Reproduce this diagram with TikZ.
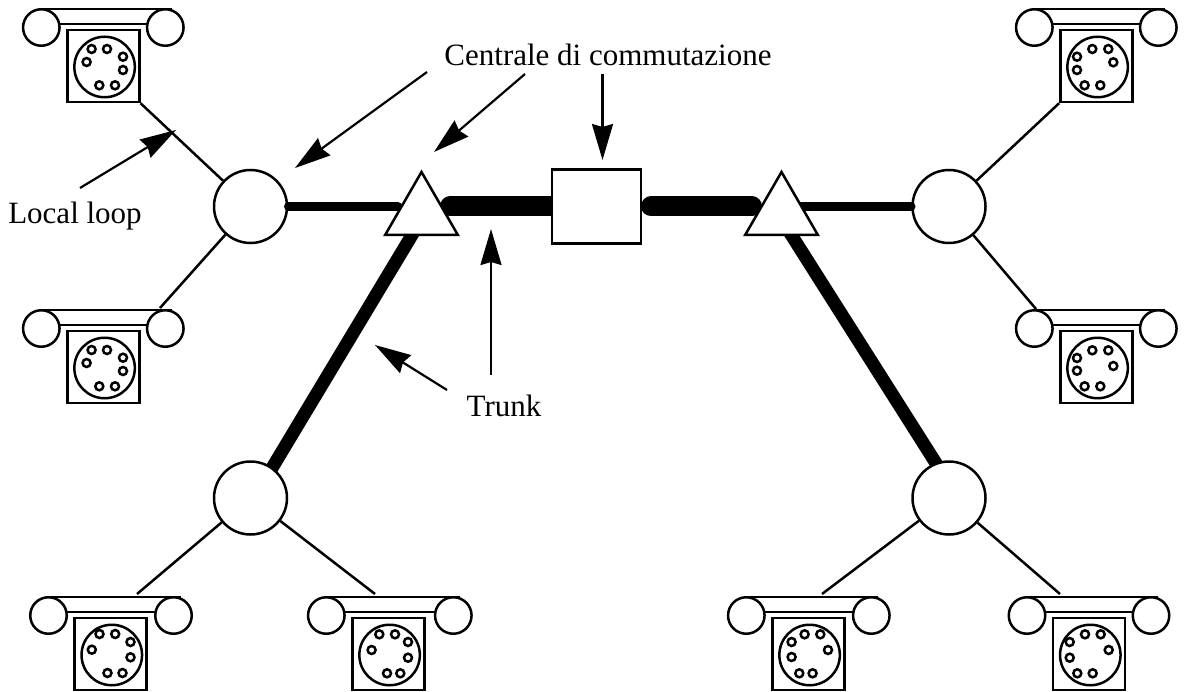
\documentclass[tikz,border=0pt]{standalone}
\usepackage{fontspec}
\setmainfont{Liberation Serif}
\usetikzlibrary{arrows.meta,shapes.geometric}
\tikzset{
  thinline/.style={line width=2.5pt},
  earp/.style={circle,draw,line width=2.5pt,fill=white,inner sep=0pt,minimum size=36.5pt},
  dial/.style={circle,draw,line width=2.5pt,inner sep=0pt,minimum size=60.5pt},
  phonebox/.style={rectangle,draw,line width=2.5pt,inner sep=0pt,minimum size=72pt},
  hub/.style={circle,draw,line width=2.5pt,fill=white,inner sep=0pt,minimum size=73pt},
  tri/.style={regular polygon,regular polygon sides=3,draw,line width=2.5pt,fill=white,inner sep=0pt,minimum size=84pt},
  sw/.style={rectangle,draw,line width=2.5pt,fill=white,inner sep=0pt,minimum width=89pt,minimum height=74pt},
  local/.style={line width=8.5pt,line cap=round},
  trunkh/.style={line width=20pt,line cap=round},
  trunkd/.style={line width=13pt},
  callout/.style={line width=2.2pt,-{Stealth[length=36pt,width=21pt,inset=3pt]}},
  lbl/.style={font=\fontsize{31}{36}\selectfont,inner sep=0pt}
}
% name, box left, box top, right earpiece offset, holes
\newcommand{\phoneset}[5]{%
  \node[phonebox] (#1b) at (#2+36,#3+36) {};
  \node[dial] (#1d) at (#2+37.3,#3+37) {};
  \foreach \hx/\hy in {#5} \draw[thinline] (#2+\hx,#3+\hy) circle (4);
  \coordinate (#1a) at (#2-28,#3-21);
  \coordinate (#1c) at (#2+#4+7,#3-21);
  \coordinate (#1e) at (#2-20,#3-6);
  \coordinate (#1f) at (#2+#4-5,#3-6);
  \draw[thinline] (#1a) -- (#1c);
  \draw[thinline] (#1e) -- (#1f);
  \node[earp] (#1l) at (#2-26,#3-2.5) {};
  \node[earp] (#1r) at (#2+#4,#3-2.5) {};
}
\begin{document}
\begin{tikzpicture}[x=1pt,y=-1pt]
\useasboundingbox (0,0) rectangle (1185,692);
\fill[white] (0,0) rectangle (1185,692);
% telephones
\phoneset{pa}{67.3}{30}{98}{24.3/19,39.7/19,55.7/26.7,55.7/40,47.7/55.3,32/55.3,19.3/32}
\phoneset{pb}{67.3}{331}{98}{24.3/19,39.7/19,55.7/26.7,55.7/40,47.7/55.3,32/55.3,19.3/32}
\phoneset{pc}{74.5}{618}{99}{25/16,40.7/16,56/24,56/39.3,48/55,33/55,17.3/31.7}
\phoneset{pd}{352.3}{618}{101}{27/16.3,42.7/16.3,55.7/24,55.7/39.7,48/55.3,34.7/55.3,19.3/32}
\phoneset{pe}{772.3}{618}{99}{19.3/24,32.3/16.3,48/16.3,55.7/32,40.3/55.3,27/55.3,19.3/39}
\phoneset{pf}{1053}{618}{98}{16.7/24,32/16.3,47.7/16.3,55.7/32,39.7/55.3,24.3/55.3,16.7/39.7}
\phoneset{pg}{1060.3}{331}{98}{16.7/27,32/19.3,48/19.3,53/35,40/55.3,24.3/55.3,16.7/39.7}
\phoneset{ph}{1060.3}{30}{98}{16.7/26.7,32/19,48/19,53/32.3,40/55.3,24.3/55.3,16.7/40}
% diagonal trunks, under the exchanges
\coordinate (fl) at (418,225);
\coordinate (fr) at (785,225);
\coordinate (el) at (254,498);
\coordinate (er) at (958,498);
\draw[trunkd] (fl) -- (el);
\draw[trunkd] (fr) -- (er);
% exchanges
\node[hub] (hubUL) at (250.5,206.5) {};
\node[hub] (hubLL) at (250.5,498) {};
\node[hub] (hubUR) at (949,206.5) {};
\node[hub] (hubLR) at (949,498) {};
% phone lines
\coordinate (tb) at (160,308);
\coordinate (tc) at (137,594);
\coordinate (td) at (375,594);
\coordinate (te) at (822,594);
\coordinate (tf) at (1060,594);
\coordinate (tg) at (1036,309);
\draw[thinline] (pab.south east) -- (hubUL);
\draw[thinline] (tb) -- (hubUL);
\draw[thinline] (tc) -- (hubLL);
\draw[thinline] (td) -- (hubLL);
\draw[thinline] (te) -- (hubLR);
\draw[thinline] (tf) -- (hubLR);
\draw[thinline] (tg) -- (hubUR);
\draw[thinline] (phb.south west) -- (hubUR);
% trunks
\coordinate (ll) at (398,206.5);
\coordinate (lr) at (800,206.5);
\coordinate (ta) at (450,206.5);
\coordinate (tm) at (580,206.5);
\coordinate (tz) at (651,206.5);
\coordinate (ty) at (752,206.5);
\draw[local] (hubUL.east) -- (ll);
\draw[local] (lr) -- (hubUR.west);
\draw[trunkh] (ta) -- (tm);
\draw[trunkh] (tz) -- (ty);
\node[sw] (sq) at (596.5,206.5) {};
\node[tri] (triL) at (421.5,214) {};
\node[tri] (triR) at (781.5,214) {};
% labels
\node[lbl] (central) at (608,55) {Centrale di commutazione};
\node[lbl] (loop) at (75,216) {Local loop};
\node[lbl] (trunk) at (504,406) {Trunk};
% callouts
\coordinate (s1) at (80,188);
\coordinate (t1) at (176,130);
\coordinate (s2) at (427,72);
\coordinate (t2) at (295,168);
\coordinate (s3) at (525,74);
\coordinate (t3) at (434,152);
\coordinate (s4) at (602.5,74);
\coordinate (t4) at (602.5,160);
\coordinate (s5) at (491,375);
\coordinate (t5) at (491,229);
\coordinate (s6) at (447,390);
\coordinate (t6) at (375,345);
\draw[callout] (s1) -- (t1);
\draw[callout] (s2) -- (t2);
\draw[callout] (s3) -- (t3);
\draw[callout] (s4) -- (t4);
\draw[callout] (s5) -- (t5);
\draw[callout] (s6) -- (t6);
\end{tikzpicture}
\end{document}
